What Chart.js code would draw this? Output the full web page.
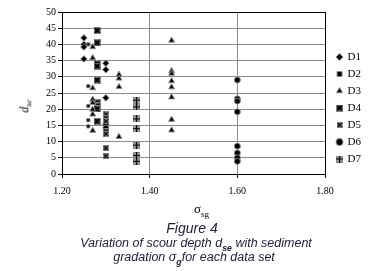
<!DOCTYPE html>
<html>
<head>
<meta charset="utf-8">
<script src="https://cdn.jsdelivr.net/npm/chart.js@4.4.0/dist/chart.umd.min.js"></script>
<style>
  body { margin: 0; background: #fff; width: 372px; height: 271px; overflow: hidden; position: relative; }
  #wrap { position: absolute; left: 0; top: 0; width: 372px; height: 204px; }
  .ttl { position: absolute; font-family: "Liberation Serif", serif; color: #000; }
  #xt { left: 194px; top: 201px; font-size: 13px; }
  #yt { left: 19px; top: 98px; font-size: 12px; font-style: italic; transform: rotate(-90deg); }
  .cap { position: absolute; width: 372px; text-align: center; font-family: "Liberation Sans", Arial, sans-serif; font-style: italic; color: #1c1c3c; }
  #c1 { top: 220px; left: 6px; font-size: 14px; }
  #c2 { top: 236px; left: 10px; font-size: 12.5px; }
  #c3 { top: 250px; left: 8px; font-size: 12.5px; }
  sub { font-size: 70%; }
</style>
</head>
<body>
<div id="wrap"><canvas id="grafico"></canvas></div>
<div class="ttl" id="xt">&sigma;<sub>sg</sub></div>
<div class="ttl" id="yt">d<sub>se</sub></div>
<div class="cap" id="c1">Figure 4</div>
<div class="cap" id="c2">Variation of scour depth d<sub><b>se</b></sub> with sediment</div>
<div class="cap" id="c3">gradation &sigma;<sub><b>g</b></sub>for each data set</div>
<script>
// dati
var nomiSerie = ['D1', 'D2', 'D3', 'D4', 'D5', 'D6', 'D7'];

var d1x = [1.25, 1.25, 1.25, 1.25, 1.30, 1.30, 1.30];
var d1y = [42.0, 40.0, 39.2, 35.5, 34.2, 32.2, 23.5];

var d2x = [1.26, 1.26, 1.26, 1.26, 1.26];
var d2y = [40.0, 27.1, 21.0, 16.6, 14.7];

var d3x = [1.27, 1.27, 1.27, 1.27, 1.27, 1.27, 1.27, 1.27, 1.33, 1.33, 1.33, 1.33, 1.45, 1.45, 1.45, 1.45, 1.45, 1.45, 1.45, 1.45];
var d3y = [39.2, 35.8, 26.5, 23.0, 22.0, 19.9, 18.4, 13.4, 30.7, 29.5, 26.9, 11.5, 41.2, 31.8, 31.0, 28.7, 26.8, 23.7, 16.8, 13.5];

var d4x = [1.28, 1.28, 1.28, 1.28, 1.28, 1.28, 1.28, 1.28, 1.28];
var d4y = [44.3, 40.5, 34.0, 33.3, 29.0, 22.0, 21.0, 20.1, 16.3];

var d5x = [1.30, 1.30, 1.30, 1.30, 1.30, 1.30, 1.30];
var d5y = [18.4, 17.3, 16.3, 13.2, 12.4, 8.0, 5.5];

var d6x = [1.30, 1.30, 1.60, 1.60, 1.60, 1.60, 1.60, 1.60, 1.60, 1.60];
var d6y = [15.3, 14.2, 29.0, 23.2, 22.5, 19.2, 8.6, 6.5, 5.0, 3.9];

var d7x = [1.37, 1.37, 1.37, 1.37, 1.37, 1.37, 1.37];
var d7y = [22.8, 20.7, 17.0, 14.0, 8.9, 5.7, 3.9];

var xTicks = [1.20, 1.40, 1.60, 1.80];
var yMax = 50;
var yStep = 5;

function punti (xs, ys) {
    return xs.map(function (x, i) { return { x: x, y: ys[i] }; });
}

// simboli composti
function marker (size, fondo, segno) {
    var c = document.createElement('canvas');
    c.width = size; c.height = size;
    var g = c.getContext('2d');
    g.fillStyle = '#8a8a8a';
    g.fillRect(0, 0, size, size);
    g.fillStyle = fondo;
    g.fillRect(1, 1, size - 2, size - 2);
    g.strokeStyle = '#000';
    g.lineWidth = 1.2;
    g.beginPath();
    if (segno === 'x') {
        g.moveTo(1, 1); g.lineTo(size - 1, size - 1);
        g.moveTo(size - 1, 1); g.lineTo(1, size - 1);
    } else {
        g.moveTo(size / 2, 0); g.lineTo(size / 2, size);
        g.moveTo(0, size / 2); g.lineTo(size, size / 2);
    }
    g.stroke();
    return c;
}

var stili = [
    'rectRot',
    'rect',
    'triangle',
    marker(7, '#2a2a2a', 'x'),
    marker(6, '#9a9a9a', 'x'),
    'circle',
    marker(7, '#9a9a9a', '+')
];
var raggi = [3.3, 2.3, 3.4, 3.5, 3, 3, 3.5];
var serieX = [d1x, d2x, d3x, d4x, d5x, d6x, d7x];
var serieY = [d1y, d2y, d3y, d4y, d5y, d6y, d7y];

var datasets = nomiSerie.map(function (nome, i) {
    return {
        label: nome,
        data: punti(serieX[i], serieY[i]),
        pointStyle: stili[i],
        pointRadius: raggi[i],
        backgroundColor: '#000',
        borderColor: '#8a8a8a',
        borderWidth: 1
    };
});

// sposta un po' la legenda verso destra
var spostaLegenda = {
    id: 'spostaLegenda',
    afterLayout: function (chart) {
        chart.legend.left += 6;
        chart.legend.right += 6;
    }
};

var ctx = document.getElementById('grafico');
new Chart(ctx, {
    type: 'scatter',
    data: { datasets: datasets },
    plugins: [spostaLegenda],
    options: {
        responsive: true,
        maintainAspectRatio: false,
        animation: false,
        layout: { padding: { left: 44, top: 12, right: 7, bottom: 0 } },
        plugins: {
            tooltip: { enabled: false },
            legend: {
                position: 'right',
                align: 'center',
                labels: {
                    usePointStyle: true,
                    boxWidth: 5,
                    boxHeight: 5,
                    padding: 6,
                    color: '#000',
                    font: { family: 'Liberation Serif', size: 11 }
                }
            }
        },
        scales: {
            x: {
                type: 'linear',
                min: xTicks[0],
                max: xTicks[xTicks.length - 1],
                afterBuildTicks: function (axis) {
                    axis.ticks = xTicks.map(function (v) { return { value: v }; });
                },
                ticks: {
                    padding: 7,
                    color: '#000',
                    font: { family: 'Liberation Serif', size: 10 },
                    callback: function (v) { return Number(v).toFixed(2); }
                },
                grid: {
                    color: function (c) { return c.tick && c.tick.value === 1.8 ? '#000' : '#8a8a8a'; },
                    tickColor: '#000',
                    tickLength: 4,
                    lineWidth: 1
                },
                border: { color: '#000', width: 1 }
            },
            y: {
                min: 0,
                max: yMax,
                ticks: {
                    stepSize: yStep,
                    padding: 2,
                    color: '#000',
                    font: { family: 'Liberation Serif', size: 10 }
                },
                grid: {
                    color: function (c) { return c.tick && c.tick.value === yMax ? '#000' : '#8a8a8a'; },
                    tickColor: '#000',
                    tickLength: 4,
                    lineWidth: 1
                },
                border: { color: '#000', width: 1 }
            }
        }
    }
});
</script>
</body>
</html>
